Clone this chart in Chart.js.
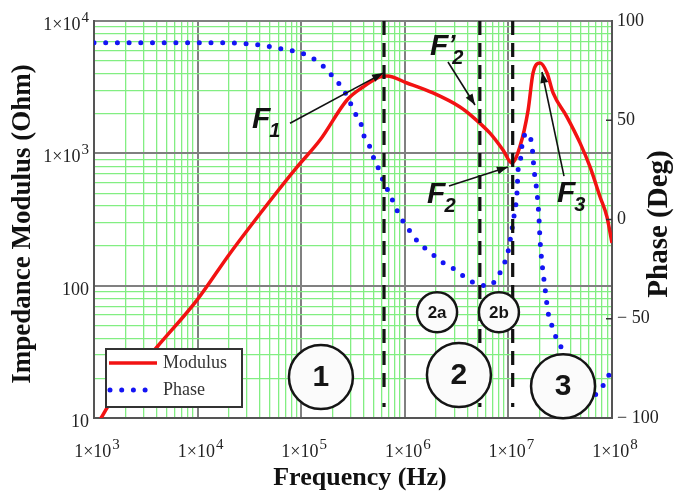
<!DOCTYPE html>
<html>
<head>
<meta charset="utf-8">
<script src="https://cdn.jsdelivr.net/npm/chart.js@4.4.1/dist/chart.umd.min.js"></script>
<style>
  html, body { margin: 0; padding: 0; background: #ffffff; }
  #wrap { width: 681px; height: 495px; position: relative; }
</style>
</head>
<body>
<div id="wrap"><canvas id="c" width="681" height="495"></canvas></div>
<script>
// Impedance modulus |Z| (Ohm) versus frequency (Hz)
const modulusFreq = [1000, 1170, 1430, 4060, 9860, 20600, 53500, 91000, 152000, 277000, 395000,
  577000, 673000, 1050000, 1870000, 3410000, 4550000, 6640000, 8870000, 10800000, 12900000,
  15500000, 17300000, 20200000, 23600000, 27000000, 36800000, 49100000, 61400000, 76600000,
  89500000, 100000000];
const modulusOhm = [8.2, 10, 13, 34.4, 77.8, 176, 468, 787, 1260, 2530, 3170,
  3780, 3840, 3400, 2860, 2240, 1880, 1420, 1060, 845, 1120,
  2120, 4050, 4820, 4050, 2860, 1880, 1200, 790, 470,
  330, 210];

// Impedance phase (degrees) versus frequency (Hz)
const phaseFreq = [1000, 19200, 32100, 53500, 72900, 93100, 122000, 159000, 203000, 253000,
  289000, 330000, 378000, 404000, 461000, 505000, 577000, 630000, 719000, 804000,
  918000, 1100000, 1340000, 1750000, 2290000, 2990000, 3900000, 4980000, 6500000, 7940000,
  9080000, 9910000, 10800000, 11300000, 12100000, 12400000, 13200000, 13500000, 15100000, 16900000,
  17700000, 18900000, 19700000, 20200000, 21100000, 22500000, 24100000, 25800000, 28200000, 32200000,
  44000000, 58600000, 71600000, 87500000, 100000000];
const phaseDeg = [89, 89, 88.4, 86.9, 85.4, 84.4, 81.9, 77.8, 71.8, 65.7,
  60.2, 53.7, 48.1, 42.1, 36.5, 30.5, 23.9, 18.4, 12.8, 6.8,
  0.8, -5.3, -11.3, -16.4, -21.4, -24.9, -29.5, -32.5, -33.5, -28.5,
  -22.4, -16.4, -5.3, 1.3, 13.3, 24.9, 31.5, 37.0, 43.6, 37.0,
  24.9, 13.3, 1.3, -10.3, -21.9, -34.0, -46.6, -52.1, -58.2, -64.2,
  -78.3, -91, -87.4, -81.4, -74.8];

// Axis ticks
const freqTicks = [1e3, 1e4, 1e5, 1e6, 1e7, 1e8];
const freqTickLabels = ['1×10³', '1×10⁴', '1×10⁵', '1×10⁶', '1×10⁷', '1×10⁸'];
const ohmTicks = [10, 100, 1e3, 1e4];
const ohmTickLabels = ['10', '100', '1×10³', '1×10⁴'];
const phaseTicks = [-100, -50, 0, 50, 100];
const phaseTickLabels = ['− 100', '− 50', '0', '50', '100'];

// Characteristic frequencies marked by dashed verticals: F1, F'2, F2
const markerFreq = [6.3e5, 5.3e6, 1.1e7];

// Numbered regions, anchored in data coordinates (frequency, ohm)
const regions = [
  { text: '1',  f: 1.55e5, z: 20.4, r: 32, size: 30 },
  { text: '2',  f: 3.33e6, z: 21.1, r: 32, size: 30 },
  { text: '3',  f: 3.37e7, z: 17.4, r: 32, size: 30 },
  { text: '2a', f: 2.05e6, z: 63,   r: 20, size: 17 },
  { text: '2b', f: 8.1e6,  z: 63,   r: 20, size: 17 }
];

// Frequency call-outs: label anchor, arrow start and arrow tip (frequency, ohm)
const callouts = [
  { sub: '1', prime: false, lf: 3.35e4, lz: 1550, af: 7.8e4,  az: 1690, tf: 6.17e5, tz: 4040 },
  { sub: '2', prime: true,  lf: 1.75e6, lz: 5530, af: 2.61e6, az: 4900, tf: 4.76e6, tz: 2320 },
  { sub: '2', prime: false, lf: 1.64e6, lz: 421,  af: 2.67e6, az: 566,  tf: 9.9e6,  tz: 787 },
  { sub: '3', prime: false, lf: 2.94e7, lz: 428,  af: 3.44e7, az: 673,  tf: 2.11e7, tz: 4120 }
];

const SERIF = '"Liberation Serif", "Times New Roman", serif';
const SANS = '"Liberation Sans", Arial, sans-serif';
const SUP = '⁰¹²³⁴⁵⁶⁷⁸⁹';

function logTicks(min, max) {
  const out = [];
  for (let e = Math.log10(min); e < Math.log10(max); e++) {
    for (let m = 1; m <= 9; m++) out.push(m * Math.pow(10, e));
  }
  out.push(max);
  return out;
}
function isDecade(v) {
  const l = Math.log10(v);
  return Math.abs(l - Math.round(l)) < 1e-9;
}
function gridColor(c) { return isDecade(c.tick.value) ? '#808080' : '#82ee82'; }
function gridWidth(c) { return isDecade(c.tick.value) ? 2 : 1.3; }

// split "1×10⁴" into base "1×10" and exponent "4"
function splitPower(label) {
  let base = '', exp = '';
  for (const ch of label) {
    const k = SUP.indexOf(ch);
    if (k >= 0) exp += String(k); else base += ch;
  }
  return { base, exp };
}
const BASE_FONT = '18px ' + SERIF;
const EXP_FONT = '15px ' + SERIF;
function powerWidth(ctx, p) {
  ctx.font = BASE_FONT;
  let w = ctx.measureText(p.base).width;
  if (p.exp) { ctx.font = EXP_FONT; w += ctx.measureText(p.exp).width + 1; }
  return w;
}
function drawPower(ctx, p, left, baseline) {
  ctx.font = BASE_FONT;
  ctx.fillText(p.base, left, baseline);
  if (p.exp) {
    const bw = ctx.measureText(p.base).width;
    ctx.font = EXP_FONT;
    ctx.fillText(p.exp, left + bw + 1, baseline - 8);
  }
}

function arrow(ctx, x0, y0, x1, y1) {
  ctx.beginPath();
  ctx.moveTo(x0, y0);
  ctx.lineTo(x1, y1);
  ctx.stroke();
  const ang = Math.atan2(y1 - y0, x1 - x0);
  const L = 11, W = 4;
  ctx.beginPath();
  ctx.moveTo(x1, y1);
  ctx.lineTo(x1 - L * Math.cos(ang) + W * Math.sin(ang), y1 - L * Math.sin(ang) - W * Math.cos(ang));
  ctx.lineTo(x1 - L * Math.cos(ang) - W * Math.sin(ang), y1 - L * Math.sin(ang) + W * Math.cos(ang));
  ctx.closePath();
  ctx.fill();
}

const overlay = {
  id: 'overlay',
  beforeDraw(chart) {
    const { ctx, chartArea: a } = chart;
    ctx.save();
    ctx.fillStyle = '#ffffff';
    ctx.fillRect(a.left, a.top, a.right - a.left, a.bottom - a.top);
    ctx.restore();
  },
  afterDatasetsDraw(chart) {
    const { ctx, chartArea: a, scales } = chart;
    const x = scales.x, y = scales.y;
    ctx.save();

    // dashed characteristic-frequency markers
    ctx.strokeStyle = '#111111';
    ctx.lineWidth = 3.2;
    markerFreq.forEach(f => {
      const px = x.getPixelForValue(f);
      ctx.setLineDash([14, 8]);
      ctx.beginPath();
      ctx.moveTo(px, a.top);
      ctx.lineTo(px, a.bottom - 26);
      ctx.stroke();
      ctx.setLineDash([]);
      ctx.beginPath();
      ctx.moveTo(px, a.bottom - 15);
      ctx.lineTo(px, a.bottom - 11);
      ctx.stroke();
    });

    // region circles
    regions.forEach(r => {
      const cx = x.getPixelForValue(r.f), cy = y.getPixelForValue(r.z);
      ctx.beginPath();
      ctx.arc(cx, cy, r.r, 0, Math.PI * 2);
      ctx.fillStyle = '#fbfbfb';
      ctx.fill();
      ctx.lineWidth = 2.5;
      ctx.strokeStyle = '#151515';
      ctx.stroke();
      ctx.fillStyle = '#151515';
      ctx.font = 'bold ' + r.size + 'px ' + SANS;
      ctx.textAlign = 'center';
      ctx.textBaseline = 'middle';
      ctx.fillText(r.text, cx, cy + 1);
    });

    // call-out labels and arrows
    ctx.strokeStyle = '#111111';
    ctx.fillStyle = '#111111';
    ctx.lineWidth = 1.6;
    callouts.forEach(c => {
      arrow(ctx, x.getPixelForValue(c.af), y.getPixelForValue(c.az),
                 x.getPixelForValue(c.tf), y.getPixelForValue(c.tz));
      const lx = x.getPixelForValue(c.lf), ly = y.getPixelForValue(c.lz);
      ctx.textAlign = 'left';
      ctx.textBaseline = 'alphabetic';
      ctx.font = 'italic bold 30px ' + SANS;
      ctx.fillText('F', lx, ly);
      const w = ctx.measureText('F').width;
      if (c.prime) {
        ctx.font = 'italic bold 26px ' + SANS;
        ctx.fillText('’', lx + w, ly - 2);
      }
      ctx.font = 'italic bold 20px ' + SANS;
      ctx.fillText(c.sub, lx + w + (c.prime ? 4 : -1), ly + 9);
    });
    ctx.restore();
  },
  afterDraw(chart) {
    const { ctx, chartArea: a, scales } = chart;
    ctx.save();

    // frequency and modulus tick labels with raised exponents
    ctx.fillStyle = '#222';
    ctx.textAlign = 'left';
    ctx.textBaseline = 'alphabetic';
    freqTicks.forEach((v, i) => {
      const p = splitPower(freqTickLabels[i]);
      const w = powerWidth(ctx, p);
      drawPower(ctx, p, scales.x.getPixelForValue(v) + 3 - w / 2, a.bottom + 39);
    });
    ohmTicks.forEach((v, i) => {
      const p = splitPower(ohmTickLabels[i]);
      const w = powerWidth(ctx, p);
      drawPower(ctx, p, a.left - 5 - w, scales.y.getPixelForValue(v) + 9);
    });

    // inside tick marks on the phase axis
    const y2 = scales.y2;
    ctx.strokeStyle = '#333';
    ctx.lineWidth = 1.5;
    [50, 0, -50].forEach(v => {
      const py = y2.getPixelForValue(v);
      ctx.beginPath();
      ctx.moveTo(a.right - 6, py);
      ctx.lineTo(a.right, py);
      ctx.stroke();
    });

    // legend
    const lx = a.left + 12, ly = a.bottom - 69, lw = 136, lh = 58;
    ctx.fillStyle = '#ffffff';
    ctx.fillRect(lx, ly, lw, lh);
    ctx.strokeStyle = '#333';
    ctx.lineWidth = 2;
    ctx.strokeRect(lx, ly, lw, lh);
    const ds = chart.data.datasets;
    const mod = ds.find(d => d.label === 'Modulus');
    const ph = ds.find(d => d.label === 'Phase');
    ctx.strokeStyle = mod.borderColor;
    ctx.lineWidth = mod.borderWidth;
    ctx.beginPath();
    ctx.moveTo(lx + 3, ly + 14); ctx.lineTo(lx + 51, ly + 14);
    ctx.stroke();
    ctx.strokeStyle = ph.borderColor;
    ctx.lineWidth = ph.borderWidth;
    ctx.lineCap = 'round';
    ctx.setLineDash(ph.borderDash);
    ctx.beginPath();
    ctx.moveTo(lx + 4, ly + 41); ctx.lineTo(lx + 46, ly + 41);
    ctx.stroke();
    ctx.setLineDash([]);
    ctx.fillStyle = '#333';
    ctx.font = '18px ' + SERIF;
    ctx.textAlign = 'left';
    ctx.textBaseline = 'middle';
    ctx.fillText('Modulus', lx + 57, ly + 14);
    ctx.fillText('Phase', lx + 57, ly + 41);

    // axis titles
    ctx.fillStyle = '#111';
    ctx.textAlign = 'center';
    ctx.textBaseline = 'middle';
    ctx.font = 'bold 26px ' + SERIF;
    ctx.fillText('Frequency (Hz)', 360, 478);
    ctx.font = 'bold 27px ' + SERIF;
    ctx.save();
    ctx.translate(23, 224);
    ctx.rotate(-Math.PI / 2);
    ctx.fillText('Impedance Modulus (Ohm)', 0, 0);
    ctx.restore();
    ctx.font = 'bold 29px ' + SERIF;
    ctx.save();
    ctx.translate(660, 224);
    ctx.rotate(-Math.PI / 2);
    ctx.fillText('Phase (Deg)', 0, 0);
    ctx.restore();
    ctx.restore();
  }
};

new Chart(document.getElementById('c'), {
  type: 'line',
  data: {
    datasets: [
      {
        label: 'Modulus',
        data: modulusFreq.map((f, i) => ({ x: f, y: modulusOhm[i] })),
        yAxisID: 'y',
        borderColor: '#f21212',
        borderWidth: 3.5,
        pointRadius: 0,
        cubicInterpolationMode: 'monotone',
        order: 1
      },
      {
        label: 'Phase',
        data: phaseFreq.map((f, i) => ({ x: f, y: phaseDeg[i] })),
        yAxisID: 'y2',
        borderColor: '#1414f4',
        borderWidth: 5,
        borderDash: [0, 11.7],
        borderCapStyle: 'round',
        pointRadius: 0,
        cubicInterpolationMode: 'monotone',
        order: 0
      }
    ]
  },
  options: {
    responsive: false,
    animation: false,
    devicePixelRatio: 1,
    layout: { padding: { top: 21, left: 0, right: 0, bottom: 0 } },
    plugins: { legend: { display: false }, tooltip: { enabled: false } },
    scales: {
      x: {
        type: 'logarithmic',
        min: 1e3, max: 1e8,
        afterBuildTicks: s => { s.ticks = logTicks(1e3, 1e8).map(v => ({ value: v })); },
        afterFit: s => { s.height = 77; },
        grid: { color: gridColor, lineWidth: gridWidth, drawTicks: false },
        border: { display: true, color: '#555', width: 2 },
        ticks: { display: false, autoSkip: false }
      },
      y: {
        type: 'logarithmic',
        position: 'left',
        min: 10, max: 1e4,
        afterBuildTicks: s => { s.ticks = logTicks(10, 1e4).map(v => ({ value: v })); },
        afterFit: s => { s.width = 94; },
        grid: { color: gridColor, lineWidth: gridWidth, drawTicks: false },
        border: { display: true, color: '#555', width: 2 },
        ticks: { display: false, autoSkip: false }
      },
      y2: {
        type: 'linear',
        position: 'right',
        min: -100, max: 100,
        afterBuildTicks: s => { s.ticks = phaseTicks.map(v => ({ value: v })); },
        afterFit: s => { s.width = 69; },
        grid: { drawOnChartArea: false, drawTicks: false },
        border: { display: true, color: '#555', width: 2 },
        ticks: {
          padding: 5,
          color: '#222', font: { family: SERIF, size: 18 },
          callback: v => { const i = phaseTicks.indexOf(v); return i >= 0 ? phaseTickLabels[i] : ''; }
        }
      }
    }
  },
  plugins: [overlay]
});
</script>
</body>
</html>
